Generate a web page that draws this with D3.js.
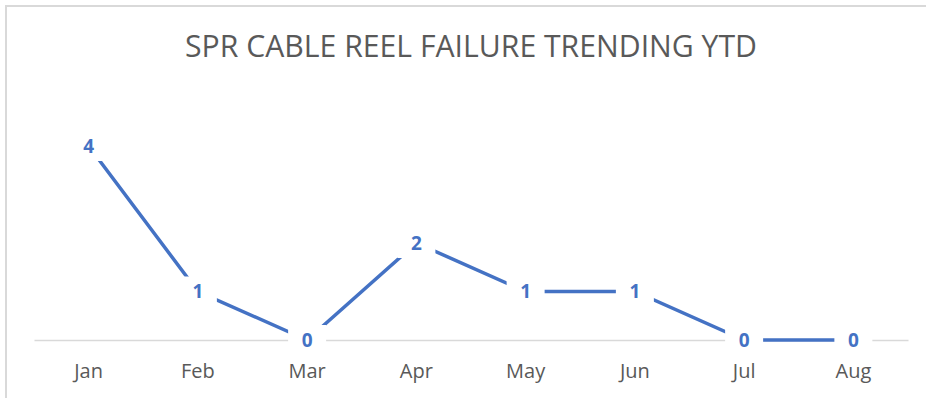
<!DOCTYPE html>
<html>
<head>
<meta charset="utf-8">
<script src="https://cdn.jsdelivr.net/npm/d3@7"></script>
<style>
  body { margin: 0; background: #fff; }
  svg { display: block; font-family: "Open Sans", sans-serif; }
</style>
</head>
<body>
<div id="chart"></div>
<script>
var svgWidth = 926;
var svgHeight = 398;

var title = "SPR CABLE REEL FAILURE TRENDING YTD";
var months = ["Jan", "Feb", "Mar", "Apr", "May", "Jun", "Jul", "Aug"];
var failures = [4, 1, 0, 2, 1, 1, 0, 0];

var margin = { top: 146, right: 18, bottom: 58, left: 34 };
var width = svgWidth - margin.left - margin.right;
var height = svgHeight - margin.top - margin.bottom;

var svg = d3.select("#chart")
  .append("svg")
  .attr("width", svgWidth)
  .attr("height", svgHeight);

// chart frame (top + left edges visible in the crop)
svg.append("line")
  .attr("x1", 5).attr("x2", svgWidth).attr("y1", 6).attr("y2", 6)
  .attr("stroke", "#d9d9d9").attr("stroke-width", 2);
svg.append("line")
  .attr("x1", 6).attr("x2", 6).attr("y1", 5).attr("y2", svgHeight)
  .attr("stroke", "#d9d9d9").attr("stroke-width", 2);

// title
svg.append("text")
  .attr("x", 471)
  .attr("y", 57)
  .attr("text-anchor", "middle")
  .attr("font-size", "31px")
  .attr("fill", "#595959")
  .attr("textLength", 572)
  .attr("lengthAdjust", "spacingAndGlyphs")
  .text(title);

var chartGroup = svg.append("g")
  .attr("transform", `translate(${margin.left}, ${margin.top})`);

var x = d3.scaleBand()
  .domain(months)
  .range([0, width]);

var y = d3.scaleLinear()
  .domain([0, 4])
  .range([height, 0]);

var xAxis = chartGroup.append("g")
  .attr("transform", `translate(0, ${height})`)
  .call(d3.axisBottom(x).tickSize(0).tickPadding(24));

xAxis.select(".domain").attr("stroke", "#d9d9d9").attr("stroke-width", 1.5);
xAxis.selectAll("text")
  .attr("font-family", "Open Sans, sans-serif")
  .attr("font-size", "20px")
  .attr("fill", "#595959");

var line = d3.line()
  .x(function(d, i) { return x(months[i]) + x.bandwidth() / 2; })
  .y(function(d) { return y(d); });

chartGroup.append("path")
  .datum(failures)
  .attr("d", line)
  .attr("fill", "none")
  .attr("stroke", "#4472C4")
  .attr("stroke-width", 3.5);

// data labels with white backing, like Excel
var labels = chartGroup.selectAll(".lbl")
  .data(failures)
  .enter()
  .append("g")
  .attr("class", "lbl")
  .attr("transform", function(d, i) {
    return `translate(${x(months[i]) + x.bandwidth() / 2}, ${y(d)})`;
  });

labels.append("rect")
  .attr("x", -19).attr("y", -15)
  .attr("width", 38).attr("height", 30)
  .attr("fill", "#fff");

labels.append("text")
  .attr("text-anchor", "middle")
  .attr("dy", "0.35em")
  .attr("font-size", "19px")
  .attr("font-weight", "bold")
  .attr("fill", "#4472C4")
  .text(function(d) { return d; });
</script>
</body>
</html>
